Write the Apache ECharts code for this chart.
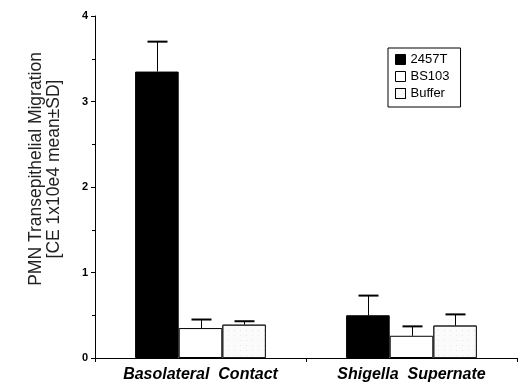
<!DOCTYPE html>
<html><head><meta charset="utf-8">
<script src="https://cdn.jsdelivr.net/npm/echarts@6/dist/echarts.min.js"></script>
<style>html,body{margin:0;padding:0;background:#fff}#c{width:519px;height:384px}</style>
</head><body><div id="c"></div>
<script>
var categories = ['Basolateral  Contact', 'Shigella  Supernate'];
var seriesNames = ['2457T', 'BS103', 'Buffer'];
var means2457T = [3.35, 0.50];
var meansBS103 = [0.35, 0.26];
var meansBuffer = [0.39, 0.38];
var sd2457T = [0.35, 0.23];
var sdBS103 = [0.10, 0.11];
var sdBuffer = [0.04, 0.13];
var yTicks = [0, 1, 2, 3, 4];

var means = [means2457T, meansBS103, meansBuffer];
var sds = [sd2457T, sdBS103, sdBuffer];
var GAP = 0.38;
var errData = [];
for (var s = 0; s < 3; s++) for (var c = 0; c < categories.length; c++) errData.push([c, means[s][c], sds[s][c], s]);

var chart = echarts.init(document.getElementById('c'));
var fontFam = 'Liberation Sans, Arial, sans-serif';
chart.setOption({
  animation: false,
  textStyle: {fontFamily: fontFam},
  grid: {left: 95, right: 2, top: 16, bottom: 26},
  legend: {
    orient: 'vertical', left: 388, top: 48,
    padding: [5, 11, 7, 7], itemGap: 4, itemWidth: 10, itemHeight: 10, icon: 'rect',
    itemStyle: {borderWidth: 1, borderColor: '#000'},
    borderColor: '#000', borderWidth: 1,
    textStyle: {fontSize: 13, color: '#000', fontFamily: fontFam},
    data: seriesNames
  },
  xAxis: {
    type: 'category', data: categories,
    axisLine: {lineStyle: {color: '#000', width: 1}},
    axisTick: {show: true, length: 4, lineStyle: {color: '#000'}},
    axisLabel: {fontSize: 16, fontWeight: 'bold', fontStyle: 'italic', color: '#000', margin: 9, fontFamily: fontFam}
  },
  yAxis: {
    type: 'value', min: yTicks[0], max: yTicks[yTicks.length - 1], interval: 1,
    name: 'PMN Transepithelial Migration\n[CE 1x10e4 mean\u00B1SD]',
    nameLocation: 'middle', nameRotate: 90, nameGap: 32,
    nameTextStyle: {fontSize: 17.5, color: '#222', lineHeight: 18, fontFamily: fontFam, padding: [0, 0, 0, 36]},
    axisLine: {show: true, lineStyle: {color: '#000', width: 1}},
    axisTick: {show: true, length: 4, lineStyle: {color: '#000'}},
    minorTick: {show: true, splitNumber: 2, length: 3, lineStyle: {color: '#000'}},
    splitLine: {show: false},
    axisLabel: {fontSize: 11, fontWeight: 'bold', color: '#000', margin: 7, fontFamily: fontFam}
  },
  series: [
    {name: seriesNames[0], type: 'bar', data: means2457T, barGap: '0%', barCategoryGap: (GAP * 100) + '%',
     itemStyle: {color: '#000', borderColor: '#000', borderWidth: 1}},
    {name: seriesNames[1], type: 'bar', data: meansBS103,
     itemStyle: {color: '#fff', borderColor: '#000', borderWidth: 1}},
    {name: seriesNames[2], type: 'bar', data: meansBuffer,
     itemStyle: {color: '#fbfbfb', borderColor: '#222', borderWidth: 1,
       decal: {symbol: 'rect', symbolSize: 0.6, color: 'rgba(0,0,0,0.25)', dashArrayX: [1, 5], dashArrayY: [1, 4], rotation: 0}}},
    {type: 'custom', data: errData, z: 5, silent: true,
     renderItem: function (params, api) {
       var c = api.value(0), m = api.value(1), sd = api.value(2), s = api.value(3);
       var band = api.size([1, 0])[0];
       var bw = band * (1 - GAP) / 3;
       var base = api.coord([c, m]);
       var top = api.coord([c, m + sd]);
       var x = Math.round(base[0] + (s - 1) * bw) + 0.5;
       var hw = 10;
       return {type: 'group', children: [
         {type: 'line', shape: {x1: x, y1: base[1], x2: x, y2: top[1]}, style: {stroke: '#000', lineWidth: 1}},
         {type: 'line', shape: {x1: x - hw, y1: top[1], x2: x + hw, y2: top[1]}, style: {stroke: '#000', lineWidth: 2}}
       ]};
     }}
  ]
});
</script></body></html>
